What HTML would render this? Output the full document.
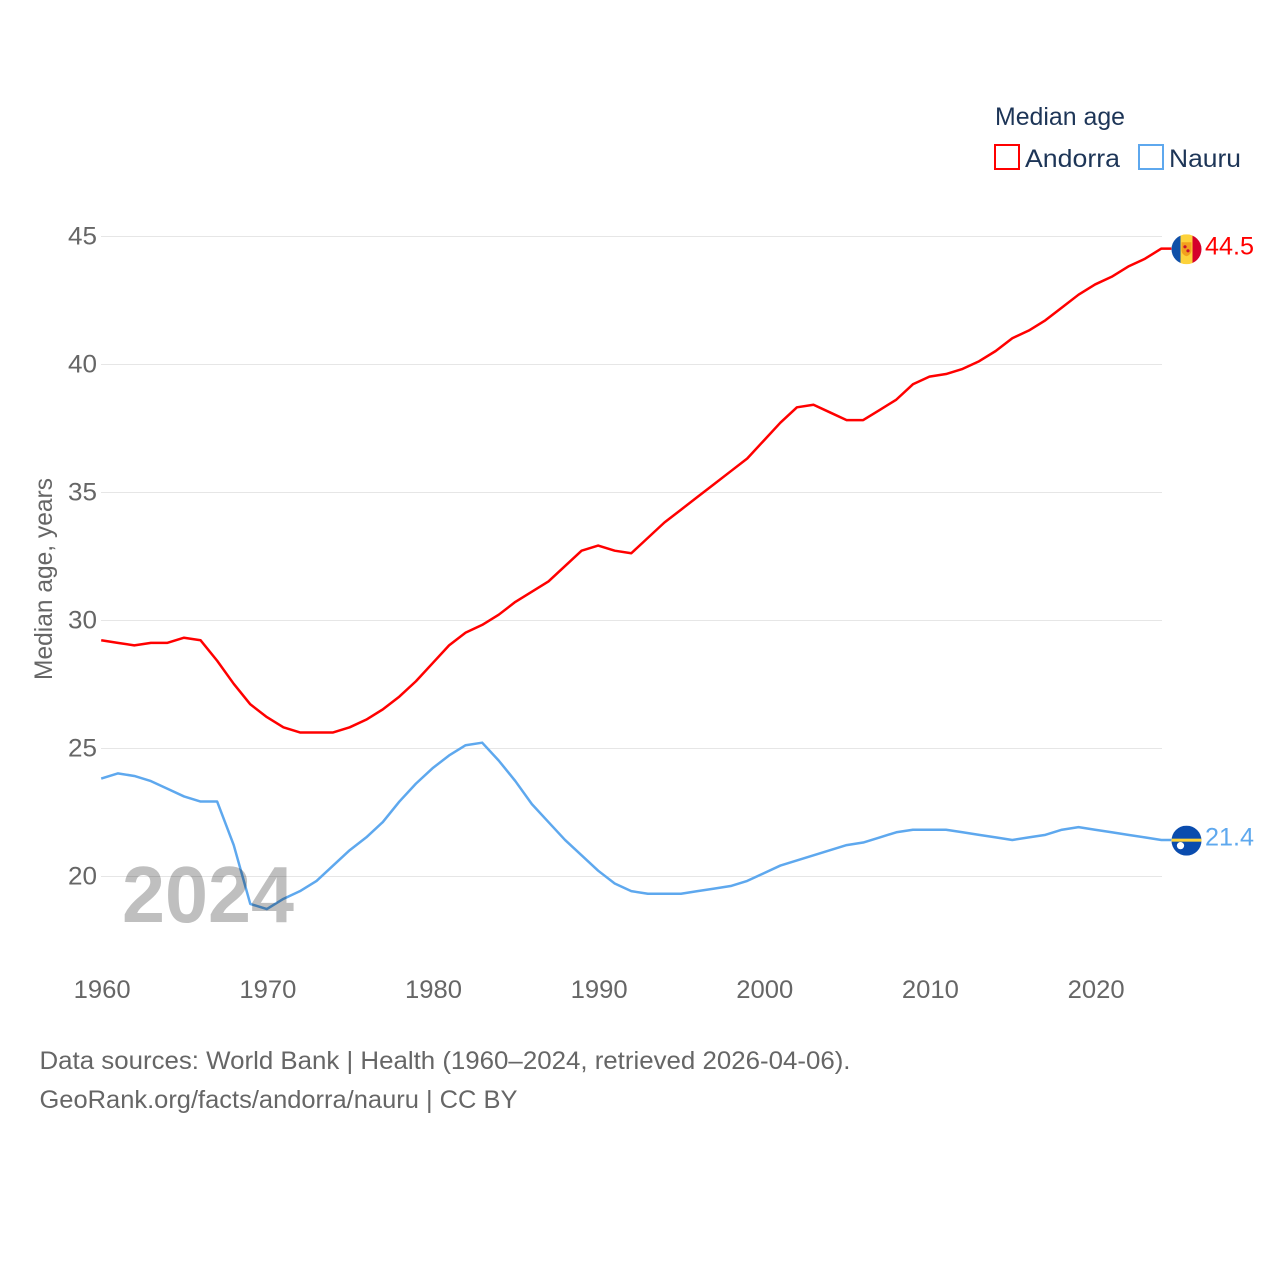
<!DOCTYPE html>
<html lang="en">
<head>
<meta charset="utf-8">
<title>Median age: Andorra and Nauru</title>
<style>
html,body{margin:0;padding:0;background:#fff;width:1280px;height:1280px;overflow:hidden}
svg{display:block}
text{font-family:"Liberation Sans",sans-serif}
</style>
</head>
<body>
<svg id="chart" xmlns="http://www.w3.org/2000/svg" width="1280" height="1280" viewBox="0 0 1280 1280">
  <rect width="1280" height="1280" fill="#ffffff"/>
  <g id="grid"></g>
  <g id="yticks"></g>
  <g id="xticks"></g>
  <text transform="translate(52,680) rotate(-90)" font-size="25" fill="#666666" textLength="202" lengthAdjust="spacingAndGlyphs">Median age, years</text>
  <g id="series" transform="translate(-0.5,-0.7)"></g>
  <text x="122" y="922" font-size="80" font-weight="bold" fill="#000000" fill-opacity="0.25" textLength="172" lengthAdjust="spacingAndGlyphs">2024</text>
  <g id="end-markers"></g>
  <g>
    <text x="995" y="125" font-size="25" fill="#1d3557" textLength="130" lengthAdjust="spacingAndGlyphs">Median age</text>
    <g>
      <rect x="995" y="145" width="24" height="24" fill="#ffffff" stroke="#ff0000" stroke-width="2"/>
      <text x="1025" y="167" font-size="25" fill="#1d3557" textLength="95" lengthAdjust="spacingAndGlyphs">Andorra</text>
    </g>
    <g>
      <rect x="1139" y="145" width="24" height="24" fill="#ffffff" stroke="#5ea8ee" stroke-width="2"/>
      <text x="1169" y="167" font-size="25" fill="#1d3557" textLength="72" lengthAdjust="spacingAndGlyphs">Nauru</text>
    </g>
  </g>
  <text x="39.5" y="1069" font-size="25" fill="#666666" textLength="811" lengthAdjust="spacingAndGlyphs">Data sources: World Bank | Health (1960–2024, retrieved 2026-04-06).</text>
  <text x="39.5" y="1108" font-size="25" fill="#666666" textLength="478" lengthAdjust="spacingAndGlyphs">GeoRank.org/facts/andorra/nauru | CC BY</text>
</svg>
<script>
const years = [1960,1961,1962,1963,1964,1965,1966,1967,1968,1969,1970,1971,1972,1973,1974,1975,1976,1977,1978,1979,1980,1981,1982,1983,1984,1985,1986,1987,1988,1989,1990,1991,1992,1993,1994,1995,1996,1997,1998,1999,2000,2001,2002,2003,2004,2005,2006,2007,2008,2009,2010,2011,2012,2013,2014,2015,2016,2017,2018,2019,2020,2021,2022,2023,2024];
const andorra = [29.2,29.1,29.0,29.1,29.1,29.3,29.2,28.4,27.5,26.7,26.2,25.8,25.6,25.6,25.6,25.8,26.1,26.5,27.0,27.6,28.3,29.0,29.5,29.8,30.2,30.7,31.1,31.5,32.1,32.7,32.9,32.7,32.6,33.2,33.8,34.3,34.8,35.3,35.8,36.3,37.0,37.7,38.3,38.4,38.1,37.8,37.8,38.2,38.6,39.2,39.5,39.6,39.8,40.1,40.5,41.0,41.3,41.7,42.2,42.7,43.1,43.4,43.8,44.1,44.5];
const nauru = [23.8,24.0,23.9,23.7,23.4,23.1,22.9,22.9,21.2,18.9,18.7,19.1,19.4,19.8,20.4,21.0,21.5,22.1,22.9,23.6,24.2,24.7,25.1,25.2,24.5,23.7,22.8,22.1,21.4,20.8,20.2,19.7,19.4,19.3,19.3,19.3,19.4,19.5,19.6,19.8,20.1,20.4,20.6,20.8,21.0,21.2,21.3,21.5,21.7,21.8,21.8,21.8,21.7,21.6,21.5,21.4,21.5,21.6,21.8,21.9,21.8,21.7,21.6,21.5,21.4];
const yTickLabels = [20,25,30,35,40,45];
const xTickLabels = [1960,1970,1980,1990,2000,2010,2020];

const NS = 'http://www.w3.org/2000/svg';
const xScale = function (year) { return 101.7 + (year - 1960) * 16.565; };
const yScale = function (value) { return 876.5 - (value - 20) * 25.6; };

function make(tag, attrs, parent) {
  const el = document.createElementNS(NS, tag);
  Object.keys(attrs).forEach(function (k) { el.setAttribute(k, attrs[k]); });
  parent.appendChild(el);
  return el;
}

const gridGroup = document.getElementById('grid');
const yTickGroup = document.getElementById('yticks');
yTickLabels.forEach(function (v) {
  const line = make('line', { x1: 101, x2: 1162, y1: yScale(v), y2: yScale(v), stroke: '#e6e6e6', 'stroke-width': 1 }, gridGroup);
  
  
  const label = make('text', { x: 97, y: yScale(v) + 8, 'text-anchor': 'end', 'font-size': 25, fill: '#666666', textLength: 29, lengthAdjust: 'spacingAndGlyphs' }, yTickGroup);
  
  
  label.textContent = v;
});

const xTickGroup = document.getElementById('xticks');
xTickLabels.forEach(function (y) {
  const label = make('text', { x: xScale(y) + 0.5, y: 998, 'text-anchor': 'middle', 'font-size': 25, fill: '#666666', textLength: 57, lengthAdjust: 'spacingAndGlyphs' }, xTickGroup);
  
  
  label.textContent = y;
});

const seriesGroup = document.getElementById('series');
function drawLine(values, color, name) {
  let d = values.map(function (v, i) {
    return (i ? 'L' : 'M') + xScale(years[i]).toFixed(2) + ' ' + yScale(v).toFixed(2);
  }).join(' ');
  d += ' L' + (xScale(years[years.length - 1]) + 10).toFixed(2) + ' ' + yScale(values[values.length - 1]).toFixed(2);
  const path = make('path', { d: d, fill: 'none', stroke: color, 'stroke-width': 2.5, 'stroke-linejoin': 'round' }, seriesGroup);
  
  
}
drawLine(andorra, '#ff0000', 'line-andorra');
drawLine(nauru, '#5ea8ee', 'line-nauru');

const markers = document.getElementById('end-markers');
const flagX = 1186.5;
const defs = make('defs', {}, markers);
function addFlag(id, cy, name) {
  const clip = make('clipPath', { id: id }, defs);
  make('circle', { cx: flagX, cy: cy, r: 15 }, clip);
  const g = make('g', { 'clip-path': 'url(#' + id + ')' }, markers);
  
  
  return g;
}

const aY = yScale(andorra[andorra.length - 1]);
const aFlag = addFlag('clip-andorra', aY, 'flag-andorra');
make('rect', { x: flagX - 15, y: aY - 15, width: 9, height: 30, fill: '#1050a8' }, aFlag);
make('rect', { x: flagX - 6, y: aY - 15, width: 12, height: 30, fill: '#fdd23a' }, aFlag);
make('rect', { x: flagX + 6, y: aY - 15, width: 9, height: 30, fill: '#d5002b' }, aFlag);
make('path', { d: 'M' + (flagX - 5) + ' ' + (aY - 7) + ' h10 v8 q0 4 -5 6 q-5 -2 -5 -6 z', fill: '#f2a01e' }, aFlag);
make('circle', { cx: flagX - 1.5, cy: aY - 2.5, r: 1.6, fill: '#c8102e' }, aFlag);
make('circle', { cx: flagX + 1.5, cy: aY + 1.5, r: 1.6, fill: '#c8102e' }, aFlag);

const nY = yScale(nauru[nauru.length - 1]);
const nFlag = addFlag('clip-nauru', nY, 'flag-nauru');
make('rect', { x: flagX - 15, y: nY - 15, width: 30, height: 30, fill: '#0a4cae' }, nFlag);
make('rect', { x: flagX - 15, y: nY - 2, width: 30, height: 3, fill: '#fdd23a' }, nFlag);
make('circle', { cx: flagX - 6, cy: nY + 5, r: 3.6, fill: '#ffffff' }, nFlag);

function addValue(values, color, name) {
  const last = values[values.length - 1];
  const label = make('text', { x: 1205, y: yScale(last) + 5, 'font-size': 25, fill: color, textLength: 49, lengthAdjust: 'spacingAndGlyphs' }, markers);
  
  
  label.textContent = last.toFixed(1);
}
addValue(andorra, '#ff0000', 'end-value-andorra');
addValue(nauru, '#5ea8ee', 'end-value-nauru');
</script>
</body>
</html>
